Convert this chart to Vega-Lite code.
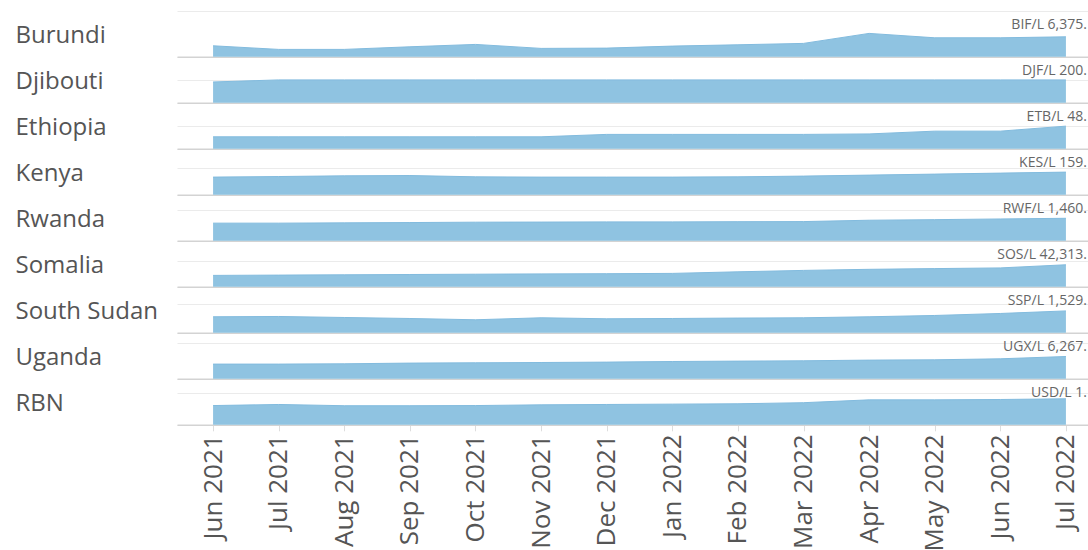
{
  "$schema": "https://vega.github.io/schema/vega-lite/v6.json",
  "background": "white",
  "padding": {"left": 15, "top": 11, "right": 0, "bottom": 0},
  "bounds": "flush",
  "spacing": 0,
  "datasets": {
    "prices": [
      {"country":"Burundi","month":"Jun 2021","price":3510},{"country":"Burundi","month":"Jul 2021","price":2360},{"country":"Burundi","month":"Aug 2021","price":2360},{"country":"Burundi","month":"Sep 2021","price":3190},{"country":"Burundi","month":"Oct 2021","price":3950},{"country":"Burundi","month":"Nov 2021","price":2680},{"country":"Burundi","month":"Dec 2021","price":2770},{"country":"Burundi","month":"Jan 2022","price":3410},{"country":"Burundi","month":"Feb 2022","price":3830},{"country":"Burundi","month":"Mar 2022","price":4270},{"country":"Burundi","month":"Apr 2022","price":7460},{"country":"Burundi","month":"May 2022","price":6060},{"country":"Burundi","month":"Jun 2022","price":6060},{"country":"Burundi","month":"Jul 2022","price":6375,"label":"BIF/L 6,375."},
      {"country":"Djibouti","month":"Jun 2021","price":182},{"country":"Djibouti","month":"Jul 2021","price":200},{"country":"Djibouti","month":"Aug 2021","price":200},{"country":"Djibouti","month":"Sep 2021","price":200},{"country":"Djibouti","month":"Oct 2021","price":200},{"country":"Djibouti","month":"Nov 2021","price":200},{"country":"Djibouti","month":"Dec 2021","price":200},{"country":"Djibouti","month":"Jan 2022","price":200},{"country":"Djibouti","month":"Feb 2022","price":200},{"country":"Djibouti","month":"Mar 2022","price":200},{"country":"Djibouti","month":"Apr 2022","price":200},{"country":"Djibouti","month":"May 2022","price":200},{"country":"Djibouti","month":"Jun 2022","price":200},{"country":"Djibouti","month":"Jul 2022","price":200,"label":"DJF/L 200."},
      {"country":"Ethiopia","month":"Jun 2021","price":25.4},{"country":"Ethiopia","month":"Jul 2021","price":25.4},{"country":"Ethiopia","month":"Aug 2021","price":25.4},{"country":"Ethiopia","month":"Sep 2021","price":25.4},{"country":"Ethiopia","month":"Oct 2021","price":25.4},{"country":"Ethiopia","month":"Nov 2021","price":25.4},{"country":"Ethiopia","month":"Dec 2021","price":30.5},{"country":"Ethiopia","month":"Jan 2022","price":30.5},{"country":"Ethiopia","month":"Feb 2022","price":30.5},{"country":"Ethiopia","month":"Mar 2022","price":30.5},{"country":"Ethiopia","month":"Apr 2022","price":31.5},{"country":"Ethiopia","month":"May 2022","price":37.4},{"country":"Ethiopia","month":"Jun 2022","price":37.4},{"country":"Ethiopia","month":"Jul 2022","price":48,"label":"ETB/L 48."},
      {"country":"Kenya","month":"Jun 2021","price":124},{"country":"Kenya","month":"Jul 2021","price":128},{"country":"Kenya","month":"Aug 2021","price":133},{"country":"Kenya","month":"Sep 2021","price":135},{"country":"Kenya","month":"Oct 2021","price":126},{"country":"Kenya","month":"Nov 2021","price":124},{"country":"Kenya","month":"Dec 2021","price":124},{"country":"Kenya","month":"Jan 2022","price":124},{"country":"Kenya","month":"Feb 2022","price":126},{"country":"Kenya","month":"Mar 2022","price":131},{"country":"Kenya","month":"Apr 2022","price":138},{"country":"Kenya","month":"May 2022","price":145},{"country":"Kenya","month":"Jun 2022","price":152},{"country":"Kenya","month":"Jul 2022","price":159,"label":"KES/L 159."},
      {"country":"Rwanda","month":"Jun 2021","price":1145},{"country":"Rwanda","month":"Jul 2021","price":1145},{"country":"Rwanda","month":"Aug 2021","price":1164},{"country":"Rwanda","month":"Sep 2021","price":1183},{"country":"Rwanda","month":"Oct 2021","price":1208},{"country":"Rwanda","month":"Nov 2021","price":1215},{"country":"Rwanda","month":"Dec 2021","price":1227},{"country":"Rwanda","month":"Jan 2022","price":1227},{"country":"Rwanda","month":"Feb 2022","price":1240},{"country":"Rwanda","month":"Mar 2022","price":1246},{"country":"Rwanda","month":"Apr 2022","price":1334},{"country":"Rwanda","month":"May 2022","price":1372},{"country":"Rwanda","month":"Jun 2022","price":1416},{"country":"Rwanda","month":"Jul 2022","price":1460,"label":"RWF/L 1,460."},
      {"country":"Somalia","month":"Jun 2021","price":21900},{"country":"Somalia","month":"Jul 2021","price":22480},{"country":"Somalia","month":"Aug 2021","price":23050},{"country":"Somalia","month":"Sep 2021","price":23630},{"country":"Somalia","month":"Oct 2021","price":24200},{"country":"Somalia","month":"Nov 2021","price":24780},{"country":"Somalia","month":"Dec 2021","price":25170},{"country":"Somalia","month":"Jan 2022","price":25740},{"country":"Somalia","month":"Feb 2022","price":28800},{"country":"Somalia","month":"Mar 2022","price":31500},{"country":"Somalia","month":"Apr 2022","price":33600},{"country":"Somalia","month":"May 2022","price":34960},{"country":"Somalia","month":"Jun 2022","price":36300},{"country":"Somalia","month":"Jul 2022","price":42313,"label":"SOS/L 42,313."},
      {"country":"South Sudan","month":"Jun 2021","price":1120},{"country":"South Sudan","month":"Jul 2021","price":1140},{"country":"South Sudan","month":"Aug 2021","price":1070},{"country":"South Sudan","month":"Sep 2021","price":1000},{"country":"South Sudan","month":"Oct 2021","price":910},{"country":"South Sudan","month":"Nov 2021","price":1050},{"country":"South Sudan","month":"Dec 2021","price":980},{"country":"South Sudan","month":"Jan 2022","price":1000},{"country":"South Sudan","month":"Feb 2022","price":1030},{"country":"South Sudan","month":"Mar 2022","price":1050},{"country":"South Sudan","month":"Apr 2022","price":1120},{"country":"South Sudan","month":"May 2022","price":1210},{"country":"South Sudan","month":"Jun 2022","price":1350},{"country":"South Sudan","month":"Jul 2022","price":1529,"label":"SSP/L 1,529."},
      {"country":"Uganda","month":"Jun 2021","price":4130},{"country":"Uganda","month":"Jul 2021","price":4130},{"country":"Uganda","month":"Aug 2021","price":4215},{"country":"Uganda","month":"Sep 2021","price":4410},{"country":"Uganda","month":"Oct 2021","price":4500},{"country":"Uganda","month":"Nov 2021","price":4580},{"country":"Uganda","month":"Dec 2021","price":4690},{"country":"Uganda","month":"Jan 2022","price":4860},{"country":"Uganda","month":"Feb 2022","price":4970},{"country":"Uganda","month":"Mar 2022","price":5060},{"country":"Uganda","month":"Apr 2022","price":5250},{"country":"Uganda","month":"May 2022","price":5340},{"country":"Uganda","month":"Jun 2022","price":5620},{"country":"Uganda","month":"Jul 2022","price":6267,"label":"UGX/L 6,267."},
      {"country":"RBN","month":"Jun 2021","price":1.08},{"country":"RBN","month":"Jul 2021","price":1.14},{"country":"RBN","month":"Aug 2021","price":1.07},{"country":"RBN","month":"Sep 2021","price":1.07},{"country":"RBN","month":"Oct 2021","price":1.08},{"country":"RBN","month":"Nov 2021","price":1.12},{"country":"RBN","month":"Dec 2021","price":1.14},{"country":"RBN","month":"Jan 2022","price":1.16},{"country":"RBN","month":"Feb 2022","price":1.18},{"country":"RBN","month":"Mar 2022","price":1.24},{"country":"RBN","month":"Apr 2022","price":1.40},{"country":"RBN","month":"May 2022","price":1.40},{"country":"RBN","month":"Jun 2022","price":1.42},{"country":"RBN","month":"Jul 2022","price":1.46,"label":"USD/L 1."}
    ]
  },
  "config": {
    "font": "Open Sans",
    "view": {"stroke": null},
    "concat": {"spacing": 0},
    "axisY": {"titleAngle": 0, "titleAlign": "left", "titleBaseline": "alphabetic", "titleX": -162, "titleY": 31, "titleFontSize": 24, "titleFontWeight": "normal", "titleColor": "#555555", "titleFont": "Open Sans", "labels": false, "ticks": false, "domain": false, "grid": true, "gridColor": "#ebebeb", "gridWidth": 1},
    "axisX": {"labels": false, "ticks": false, "domain": true, "domainColor": "#d3d3d3", "domainWidth": 1.5, "grid": false, "zindex": 1, "labelFont": "Open Sans", "labelFontSize": 26, "labelColor": "#555555", "labelAngle": 270, "labelAlign": "right", "labelBaseline": "middle", "labelPadding": 3, "tickSize": 6, "tickColor": "#dddddd"},
    "text": {"align": "right", "baseline": "middle", "dx": 21, "dy": 13.5, "fontSize": 14, "color": "#666666", "font": "Open Sans"}
  },
  "vconcat": [
    {"width": 925, "height": 45.8, "data": {"name": "prices"}, "transform": [{"filter": {"field": "country", "equal": "Burundi"}}],
     "encoding": {"x": {"field": "month", "type": "ordinal", "title": null, "scale": {"type": "point", "padding": 0.55, "domain": ["Jun 2021","Jul 2021","Aug 2021","Sep 2021","Oct 2021","Nov 2021","Dec 2021","Jan 2022","Feb 2022","Mar 2022","Apr 2022","May 2022","Jun 2022","Jul 2022"]}}},
     "layer": [
       {"mark": {"type": "area", "color": "#8fc3e1", "opacity": 1, "fillOpacity": 1, "line": {"color": "#82bbde", "strokeWidth": 1}},
        "encoding": {"y": {"field": "price", "type": "quantitative", "scale": {"domain": [0, 14600], "nice": false}, "axis": {"title": "Burundi", "values": [0, 4800, 9800, 14600]}}}},
       {"transform": [{"filter": "isValid(datum.label)"}], "mark": {"type": "text"},
        "encoding": {"y": {"datum": 14600, "type": "quantitative"}, "text": {"field": "label", "type": "nominal"}}}
     ]},
    {"width": 925, "height": 45.8, "data": {"name": "prices"}, "transform": [{"filter": {"field": "country", "equal": "Djibouti"}}],
     "encoding": {"x": {"field": "month", "type": "ordinal", "title": null, "scale": {"type": "point", "padding": 0.55, "domain": ["Jun 2021","Jul 2021","Aug 2021","Sep 2021","Oct 2021","Nov 2021","Dec 2021","Jan 2022","Feb 2022","Mar 2022","Apr 2022","May 2022","Jun 2022","Jul 2022"]}}},
     "layer": [
       {"mark": {"type": "area", "color": "#8fc3e1", "opacity": 1, "fillOpacity": 1, "line": {"color": "#82bbde", "strokeWidth": 1}},
        "encoding": {"y": {"field": "price", "type": "quantitative", "scale": {"domain": [0, 400], "nice": false}, "axis": {"title": "Djibouti", "values": [0, 200]}}}},
       {"transform": [{"filter": "isValid(datum.label)"}], "mark": {"type": "text"},
        "encoding": {"y": {"datum": 400, "type": "quantitative"}, "text": {"field": "label", "type": "nominal"}}}
     ]},
    {"width": 925, "height": 45.8, "data": {"name": "prices"}, "transform": [{"filter": {"field": "country", "equal": "Ethiopia"}}],
     "encoding": {"x": {"field": "month", "type": "ordinal", "title": null, "scale": {"type": "point", "padding": 0.55, "domain": ["Jun 2021","Jul 2021","Aug 2021","Sep 2021","Oct 2021","Nov 2021","Dec 2021","Jan 2022","Feb 2022","Mar 2022","Apr 2022","May 2022","Jun 2022","Jul 2022"]}}},
     "layer": [
       {"mark": {"type": "area", "color": "#8fc3e1", "opacity": 1, "fillOpacity": 1, "line": {"color": "#82bbde", "strokeWidth": 1}},
        "encoding": {"y": {"field": "price", "type": "quantitative", "scale": {"domain": [0, 97], "nice": false}, "axis": {"title": "Ethiopia", "values": [0, 48]}}}},
       {"transform": [{"filter": "isValid(datum.label)"}], "mark": {"type": "text"},
        "encoding": {"y": {"datum": 97, "type": "quantitative"}, "text": {"field": "label", "type": "nominal"}}}
     ]},
    {"width": 925, "height": 45.8, "data": {"name": "prices"}, "transform": [{"filter": {"field": "country", "equal": "Kenya"}}],
     "encoding": {"x": {"field": "month", "type": "ordinal", "title": null, "scale": {"type": "point", "padding": 0.55, "domain": ["Jun 2021","Jul 2021","Aug 2021","Sep 2021","Oct 2021","Nov 2021","Dec 2021","Jan 2022","Feb 2022","Mar 2022","Apr 2022","May 2022","Jun 2022","Jul 2022"]}}},
     "layer": [
       {"mark": {"type": "area", "color": "#8fc3e1", "opacity": 1, "fillOpacity": 1, "line": {"color": "#82bbde", "strokeWidth": 1}},
        "encoding": {"y": {"field": "price", "type": "quantitative", "scale": {"domain": [0, 321], "nice": false}, "axis": {"title": "Kenya", "values": [0, 187]}}}},
       {"transform": [{"filter": "isValid(datum.label)"}], "mark": {"type": "text"},
        "encoding": {"y": {"datum": 321, "type": "quantitative"}, "text": {"field": "label", "type": "nominal"}}}
     ]},
    {"width": 925, "height": 45.8, "data": {"name": "prices"}, "transform": [{"filter": {"field": "country", "equal": "Rwanda"}}],
     "encoding": {"x": {"field": "month", "type": "ordinal", "title": null, "scale": {"type": "point", "padding": 0.55, "domain": ["Jun 2021","Jul 2021","Aug 2021","Sep 2021","Oct 2021","Nov 2021","Dec 2021","Jan 2022","Feb 2022","Mar 2022","Apr 2022","May 2022","Jun 2022","Jul 2022"]}}},
     "layer": [
       {"mark": {"type": "area", "color": "#8fc3e1", "opacity": 1, "fillOpacity": 1, "line": {"color": "#82bbde", "strokeWidth": 1}},
        "encoding": {"y": {"field": "price", "type": "quantitative", "scale": {"domain": [0, 2970], "nice": false}, "axis": {"title": "Rwanda", "values": [0, 1000, 2000]}}}},
       {"transform": [{"filter": "isValid(datum.label)"}], "mark": {"type": "text"},
        "encoding": {"y": {"datum": 2970, "type": "quantitative"}, "text": {"field": "label", "type": "nominal"}}}
     ]},
    {"width": 925, "height": 45.8, "data": {"name": "prices"}, "transform": [{"filter": {"field": "country", "equal": "Somalia"}}],
     "encoding": {"x": {"field": "month", "type": "ordinal", "title": null, "scale": {"type": "point", "padding": 0.55, "domain": ["Jun 2021","Jul 2021","Aug 2021","Sep 2021","Oct 2021","Nov 2021","Dec 2021","Jan 2022","Feb 2022","Mar 2022","Apr 2022","May 2022","Jun 2022","Jul 2022"]}}},
     "layer": [
       {"mark": {"type": "area", "color": "#8fc3e1", "opacity": 1, "fillOpacity": 1, "line": {"color": "#82bbde", "strokeWidth": 1}},
        "encoding": {"y": {"field": "price", "type": "quantitative", "scale": {"domain": [0, 88000], "nice": false}, "axis": {"title": "Somalia", "values": [0, 50000]}}}},
       {"transform": [{"filter": "isValid(datum.label)"}], "mark": {"type": "text"},
        "encoding": {"y": {"datum": 88000, "type": "quantitative"}, "text": {"field": "label", "type": "nominal"}}}
     ]},
    {"width": 925, "height": 45.8, "data": {"name": "prices"}, "transform": [{"filter": {"field": "country", "equal": "South Sudan"}}],
     "encoding": {"x": {"field": "month", "type": "ordinal", "title": null, "scale": {"type": "point", "padding": 0.55, "domain": ["Jun 2021","Jul 2021","Aug 2021","Sep 2021","Oct 2021","Nov 2021","Dec 2021","Jan 2022","Feb 2022","Mar 2022","Apr 2022","May 2022","Jun 2022","Jul 2022"]}}},
     "layer": [
       {"mark": {"type": "area", "color": "#8fc3e1", "opacity": 1, "fillOpacity": 1, "line": {"color": "#82bbde", "strokeWidth": 1}},
        "encoding": {"y": {"field": "price", "type": "quantitative", "scale": {"domain": [0, 3200], "nice": false}, "axis": {"title": "South Sudan", "values": [0, 1000, 2000]}}}},
       {"transform": [{"filter": "isValid(datum.label)"}], "mark": {"type": "text"},
        "encoding": {"y": {"datum": 3200, "type": "quantitative"}, "text": {"field": "label", "type": "nominal"}}}
     ]},
    {"width": 925, "height": 45.8, "data": {"name": "prices"}, "transform": [{"filter": {"field": "country", "equal": "Uganda"}}],
     "encoding": {"x": {"field": "month", "type": "ordinal", "title": null, "scale": {"type": "point", "padding": 0.55, "domain": ["Jun 2021","Jul 2021","Aug 2021","Sep 2021","Oct 2021","Nov 2021","Dec 2021","Jan 2022","Feb 2022","Mar 2022","Apr 2022","May 2022","Jun 2022","Jul 2022"]}}},
     "layer": [
       {"mark": {"type": "area", "color": "#8fc3e1", "opacity": 1, "fillOpacity": 1, "line": {"color": "#82bbde", "strokeWidth": 1}},
        "encoding": {"y": {"field": "price", "type": "quantitative", "scale": {"domain": [0, 12870], "nice": false}, "axis": {"title": "Uganda", "values": [0, 5000, 10000]}}}},
       {"transform": [{"filter": "isValid(datum.label)"}], "mark": {"type": "text"},
        "encoding": {"y": {"datum": 12870, "type": "quantitative"}, "text": {"field": "label", "type": "nominal"}}}
     ]},
    {"width": 925, "height": 45.8, "data": {"name": "prices"}, "transform": [{"filter": {"field": "country", "equal": "RBN"}}],
     "encoding": {"x": {"field": "month", "type": "ordinal", "title": null, "scale": {"type": "point", "padding": 0.55, "domain": ["Jun 2021","Jul 2021","Aug 2021","Sep 2021","Oct 2021","Nov 2021","Dec 2021","Jan 2022","Feb 2022","Mar 2022","Apr 2022","May 2022","Jun 2022","Jul 2022"]}, "axis": {"labels": true, "ticks": true}}},
     "layer": [
       {"mark": {"type": "area", "color": "#8fc3e1", "opacity": 1, "fillOpacity": 1, "line": {"color": "#82bbde", "strokeWidth": 1}},
        "encoding": {"y": {"field": "price", "type": "quantitative", "scale": {"domain": [0, 2.57], "nice": false}, "axis": {"title": "RBN", "values": [0, 1, 1.8]}}}},
       {"transform": [{"filter": "isValid(datum.label)"}], "mark": {"type": "text"},
        "encoding": {"y": {"datum": 2.57, "type": "quantitative"}, "text": {"field": "label", "type": "nominal"}}}
     ]}
  ]
}
